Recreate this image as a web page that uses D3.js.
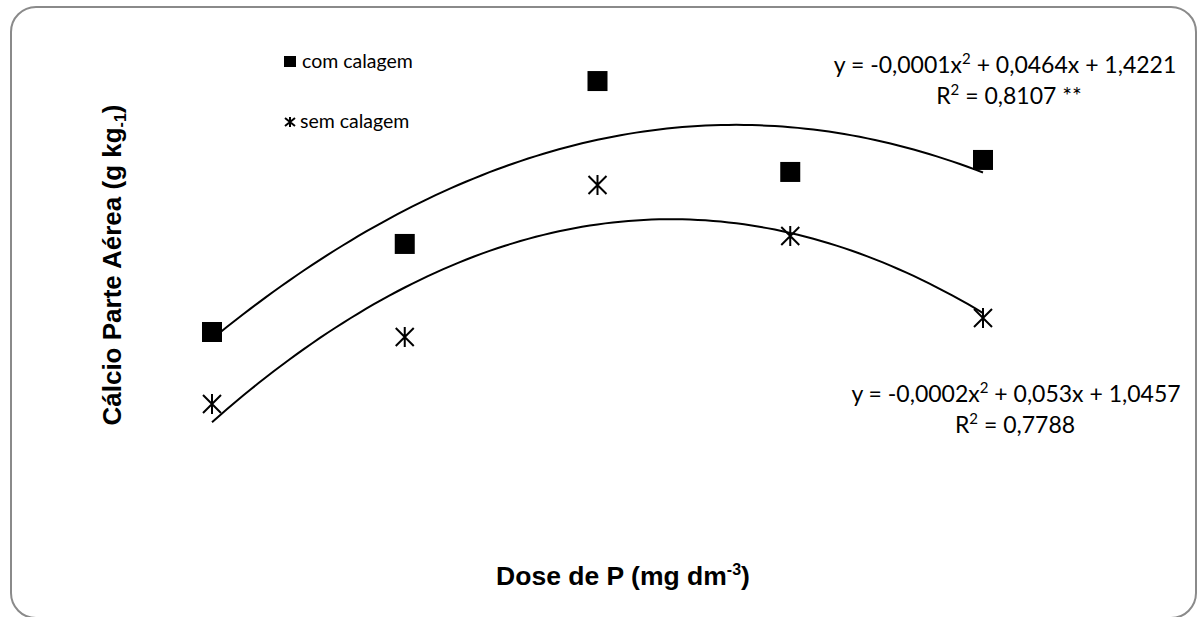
<!DOCTYPE html>
<html>
<head>
<meta charset="utf-8">
<script src="https://cdn.jsdelivr.net/npm/d3@7"></script>
<style>
  body { margin: 0; background: #fff; }
  svg { display: block; }
</style>
</head>
<body>
<script>
// doses of P (mg dm-3) and Ca in shoot (g kg-1)
const doses = [0, 50, 100, 150, 200];
const comCalagem = [1.52, 2.107, 3.193, 2.587, 2.667];
const semCalagem = [1.04, 1.487, 2.5, 2.16, 1.613];
const seriesNames = ["com calagem", "sem calagem"];
const eqCom = ["y = -0,0001x² + 0,0464x + 1,4221", "R² = 0,8107 **"];
const eqSem = ["y = -0,0002x² + 0,053x + 1,0457", "R² = 0,7788"];

const width = 1199, height = 617;

const svg = d3.select("body").append("svg")
  .attr("width", width).attr("height", height);

// rounded chart frame
svg.append("rect")
  .attr("x", 11).attr("y", 7)
  .attr("width", 1185).attr("height", 611)
  .attr("rx", 25).attr("ry", 25)
  .attr("fill", "#fff")
  .attr("stroke", "#8a8a8a")
  .attr("stroke-width", 2);

// scales (axes are hidden in the original)
const x = d3.scaleLinear().domain([0, 200]).range([212, 983]);
const y = d3.scaleLinear().domain([0, 3.5]).range([560, 35]);

// least-squares quadratic trendline, like the spreadsheet does
function quadFit(xs, ys) {
  let s = [0, 0, 0, 0, 0], t = [0, 0, 0];
  xs.forEach((xi, i) => {
    for (let k = 0; k < 5; k++) s[k] += Math.pow(xi, k);
    for (let k = 0; k < 3; k++) t[k] += Math.pow(xi, k) * ys[i];
  });
  // normal equations for a + b x + c x^2
  const A = [
    [s[0], s[1], s[2], t[0]],
    [s[1], s[2], s[3], t[1]],
    [s[2], s[3], s[4], t[2]]
  ];
  for (let i = 0; i < 3; i++) {
    for (let j = i + 1; j < 3; j++) {
      const f = A[j][i] / A[i][i];
      for (let k = i; k < 4; k++) A[j][k] -= f * A[i][k];
    }
  }
  const c = A[2][3] / A[2][2];
  const b = (A[1][3] - A[1][2] * c) / A[1][1];
  const a = (A[0][3] - A[0][1] * b - A[0][2] * c) / A[0][0];
  return (v) => a + b * v + c * v * v;
}

const line = d3.line();
const samples = d3.range(0, 200.01, 2);

[comCalagem, semCalagem].forEach((vals) => {
  const f = quadFit(doses, vals);
  svg.append("path")
    .attr("d", line(samples.map((d) => [x(d), y(f(d))])))
    .attr("fill", "none")
    .attr("stroke", "#000")
    .attr("stroke-width", 2);
});

const starPath = (r) =>
  `M0,${-r}V${r}M${-r * 0.9},${-r * 0.9}L${r * 0.9},${r * 0.9}M${r * 0.9},${-r * 0.9}L${-r * 0.9},${r * 0.9}`;

// com calagem: squares
svg.append("g").selectAll("rect")
  .data(doses.map((d, i) => [d, comCalagem[i]]))
  .join("rect")
  .attr("x", (d) => x(d[0]) - 10)
  .attr("y", (d) => y(d[1]) - 10)
  .attr("width", 20).attr("height", 20)
  .attr("fill", "#000");

// sem calagem: stars
svg.append("g").selectAll("path")
  .data(doses.map((d, i) => [d, semCalagem[i]]))
  .join("path")
  .attr("transform", (d) => `translate(${x(d[0])},${y(d[1])})`)
  .attr("d", starPath(10))
  .attr("fill", "none")
  .attr("stroke", "#000")
  .attr("stroke-width", 2);

// legend
const lg = svg.append("g").style("font-family", "Lato, 'Open Sans', sans-serif").style("font-size", "19.5px");
lg.append("rect").attr("x", 284).attr("y", 56).attr("width", 12).attr("height", 11).attr("fill", "#000");
lg.append("text").attr("x", 302).attr("y", 68).text(seriesNames[0]);
lg.append("path").attr("transform", "translate(290,122)")
  .attr("d", "M0,-5V5M-5,-4L5,4M5,-4L-5,4")
  .attr("fill", "none").attr("stroke", "#000").attr("stroke-width", 2);
lg.append("text").attr("x", 300).attr("y", 128).text(seriesNames[1]);

// trendline equations, with a real superscript 2
const eqg = svg.append("g")
  .style("font-family", "Lato, 'Open Sans', sans-serif")
  .style("font-size", "23px")
  .attr("text-anchor", "middle");
function eqText(str, cx, by) {
  const t = eqg.append("text").attr("x", cx).attr("y", by);
  str.split("²").forEach((part, i) => {
    if (i > 0) {
      t.append("tspan").attr("dy", -9).style("font-size", "15px").text("2");
      t.append("tspan").attr("dy", 9).text(part);
    } else {
      t.append("tspan").text(part);
    }
  });
}
eqText(eqCom[0], 1005, 73);
eqText(eqCom[1], 1009, 104);
eqText(eqSem[0], 1016, 402);
eqText(eqSem[1], 1015, 433);

// axis titles
const yt = svg.append("text")
  .attr("transform", "translate(121,265) rotate(-90)")
  .attr("text-anchor", "middle")
  .style("font-family", "'Liberation Sans', Arial, sans-serif")
  .style("font-weight", "bold")
  .style("font-size", "26px");
yt.append("tspan").text("Cálcio Parte Aérea (g kg");
yt.append("tspan").attr("dy", 5).style("font-size", "16px").text("-1");
yt.append("tspan").attr("dy", -5).text(")");

const xt = svg.append("text")
  .attr("x", 623).attr("y", 585)
  .attr("text-anchor", "middle")
  .style("font-family", "'Liberation Sans', Arial, sans-serif")
  .style("font-weight", "bold")
  .style("font-size", "26.5px");
xt.append("tspan").text("Dose de P (mg dm");
xt.append("tspan").attr("dy", -10).style("font-size", "16px").text("-3");
xt.append("tspan").attr("dy", 10).text(")");
</script>
</body>
</html>
